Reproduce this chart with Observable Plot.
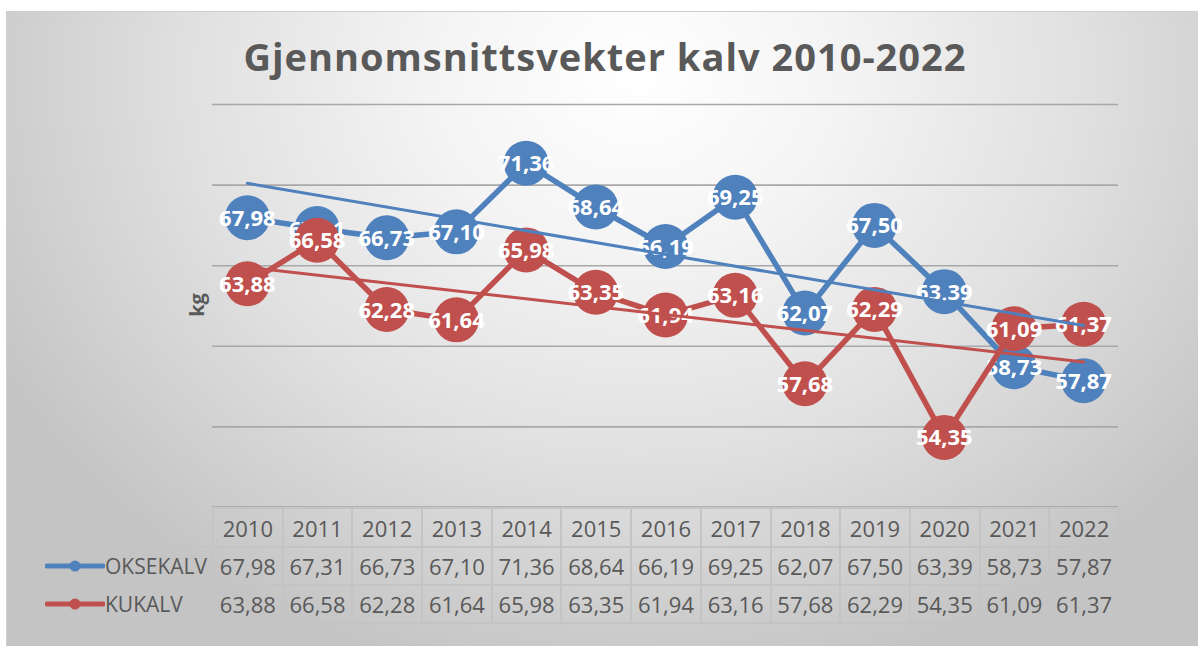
<!DOCTYPE html>
<html><head><meta charset="utf-8">
<script src="https://cdn.jsdelivr.net/npm/d3@7"></script>
<script src="https://cdn.jsdelivr.net/npm/@observablehq/plot@0.6"></script>
<style>
html,body{margin:0;padding:0;background:#fff;}
#wrap{position:relative;width:1198px;height:646px;overflow:hidden;font-family:"Open Sans",sans-serif;}
#bg{position:absolute;left:6px;top:11px;width:1210px;height:650px;border:1px solid #cfcfcf;
 background:radial-gradient(ellipse 60% 95% at 52% 10%, #ffffff 0%, #f4f4f4 28%, #e0e0e0 62%, #c4c4c4 100%);}
#title{position:absolute;left:6px;width:1198px;top:34px;line-height:44px;text-align:center;font-size:38px;letter-spacing:1px;font-weight:700;color:#595959;white-space:nowrap;}
#ylab{position:absolute;left:196px;top:305px;transform:translate(-50%,-50%) rotate(-90deg);font-size:20px;font-weight:700;color:#595959;}
#chart{position:absolute;left:0;top:0;}
#tbl{position:absolute;left:38px;top:507px;border-collapse:collapse;table-layout:fixed;width:1080px;color:#595959;font-size:22px;}
#tbl td{border:2px solid #c4c4c4;text-align:center;padding:0;white-space:nowrap;}
#tbl tr.hdr td{height:37px;}
#tbl tr.row td{height:36px;}
#tbl td.blank{border:none;}
#tbl td.leg{text-align:left;padding-left:5px;font-size:21px;}
#tbl td.leg div{display:flex;align-items:center;}
</style></head>
<body>
<div id="wrap">
  <div id="bg"></div>
  <div id="title"></div>
  <div id="chart"></div>
  <div id="ylab"></div>
  <table id="tbl"></table>
</div>
<script>
// ---- data ----
const titleText = "Gjennomsnittsvekter kalv 2010-2022";
const yLabel = "kg";
const years = [2010, 2011, 2012, 2013, 2014, 2015, 2016, 2017, 2018, 2019, 2020, 2021, 2022];
const seriesNames = ["OKSEKALV", "KUKALV"];
const oksekalv = [67.98, 67.31, 66.73, 67.10, 71.36, 68.64, 66.19, 69.25, 62.07, 67.50, 63.39, 58.73, 57.87];
const kukalv   = [63.88, 66.58, 62.28, 61.64, 65.98, 63.35, 61.94, 63.16, 57.68, 62.29, 54.35, 61.09, 61.37];
const yTicks = [55, 60, 65, 70, 75];

// ---- styling ----
const colors = {OKSEKALV: "#4f81bd", KUKALV: "#c0504d"};
const fmt = v => v.toFixed(2).replace(".", ",");

const seriesValues = [oksekalv, kukalv];
const rows = seriesNames.map((name, i) => years.map((year, j) => ({series: name, year, value: seriesValues[i][j]})));

document.getElementById("title").textContent = titleText;
document.getElementById("ylab").textContent = yLabel;

const marks = [Plot.ruleY(yTicks, {stroke: "#a8a8a8", strokeWidth: 1.6})];
rows.forEach(data => {
  const c = colors[data[0].series];
  marks.push(
    Plot.line(data, {x: "year", y: "value", stroke: c, strokeWidth: 5.5, strokeLinejoin: "round", strokeLinecap: "round"}),
    Plot.dot(data, {x: "year", y: "value", r: 22.5, fill: c, stroke: "none"}),
    Plot.text(data, {x: "year", y: "value", text: d => fmt(d.value), fill: "white", fontWeight: "bold", fontSize: 22, fontFamily: "Open Sans", dy: 1})
  );
});
rows.forEach(data => {
  marks.push(Plot.linearRegressionY(data, {x: "year", y: "value", stroke: colors[data[0].series], strokeWidth: 3, ci: 0}));
});
marks.push(Plot.ruleY([50], {stroke: "#8f8f8f", strokeWidth: 2}));

const chart = Plot.plot({
  width: 1198, height: 646,
  marginLeft: 212, marginRight: 80, marginTop: 104, marginBottom: 139,
  x: {domain: [years[0] - 0.5, years[years.length - 1] + 0.5], axis: null},
  y: {domain: [50, 75], axis: null},
  style: {background: "transparent", overflow: "visible"},
  marks
});
document.getElementById("chart").appendChild(chart);

// ---- data table ----
const tbl = document.getElementById("tbl");
const cg = document.createElement("colgroup");
const c0 = document.createElement("col"); c0.style.width = "174px"; cg.appendChild(c0);
years.forEach(() => { const c = document.createElement("col"); c.style.width = (906 / years.length) + "px"; cg.appendChild(c); });
tbl.appendChild(cg);
const hr = document.createElement("tr"); hr.className = "hdr";
const b = document.createElement("td"); b.className = "blank"; hr.appendChild(b);
years.forEach(y => { const td = document.createElement("td"); td.textContent = y; hr.appendChild(td); });
tbl.appendChild(hr);
seriesNames.forEach((name, i) => {
  const tr = document.createElement("tr"); tr.className = "row";
  const lg = document.createElement("td"); lg.className = "leg";
  const c = colors[name];
  lg.innerHTML = `<div><svg width="60" height="14"><line x1="2" y1="7" x2="58" y2="7" stroke="${c}" stroke-width="5" stroke-linecap="round"/><circle cx="30" cy="7" r="5.5" fill="${c}"/></svg><span>${name}</span></div>`;
  tr.appendChild(lg);
  seriesValues[i].forEach(v => { const td = document.createElement("td"); td.textContent = fmt(v); tr.appendChild(td); });
  tbl.appendChild(tr);
});
</script>
</body></html>
